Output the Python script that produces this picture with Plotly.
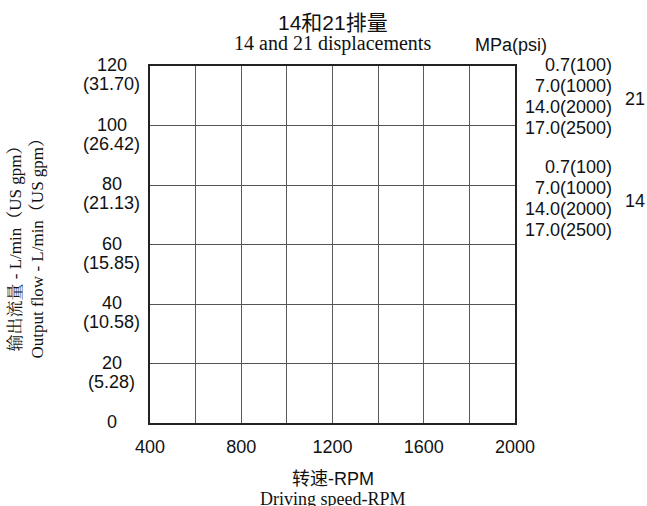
import plotly.graph_objects as go

# ---- data ----
x_grid = [400, 600, 800, 1000, 1200, 1400, 1600, 1800, 2000]
x_labels = ["400", "", "800", "", "1200", "", "1600", "", "2000"]
y_vals = [0, 20, 40, 60, 80, 100, 120]
y_gpm = ["", "(5.28)", "(10.58)", "(15.85)", "(21.13)", "(26.42)", "(31.70)"]
pressures = ["0.7(100)", "7.0(1000)", "14.0(2000)", "17.0(2500)"]
displacements = ["21", "14"]

title_cn = "14和21排量"
title_en = "14 and 21 displacements"
unit_label = "MPa(psi)"
xtitle_cn = "转速-RPM"
xtitle_en = "Driving speed-RPM"
ytitle_cn = "输出流量 - L/min（US gpm）"
ytitle_en = "Output flow - L/min（US gpm）"

SANS = "Liberation Sans, Arial, Noto Sans CJK SC"
SERIF = "Liberation Serif, Times New Roman, Noto Serif CJK SC, Noto Sans CJK SC"
TXT = "#111111"

fig = go.Figure()
fig.add_trace(go.Scatter(x=[], y=[], mode="lines", showlegend=False))

fig.update_layout(
    width=647, height=506,
    margin=dict(l=150, r=132, t=66, b=83),
    paper_bgcolor="white", plot_bgcolor="white",
    showlegend=False,
    font=dict(family=SANS, size=17, color=TXT),
)

fig.update_xaxes(
    range=[400, 2000], tickvals=x_grid, ticktext=x_labels,
    showgrid=True, gridcolor="#5a5a5a", gridwidth=1.2,
    showline=True, linecolor="#222222", linewidth=2, mirror=True,
    ticks="outside", ticklen=6, tickcolor="rgba(0,0,0,0)",
    tickfont=dict(family=SANS, size=18, color=TXT), zeroline=False,
)
fig.update_yaxes(
    range=[0, 120], tickvals=y_vals,
    showgrid=True, gridcolor="#555555", gridwidth=1.2,
    showline=True, linecolor="#222222", linewidth=2, mirror=True,
    showticklabels=False, zeroline=False,
)

ann = []
# y tick labels (value on the gridline, gpm below)
for v, g in zip(y_vals, y_gpm):
    ann.append(dict(x=0, xref="paper", y=v, yref="y", text=str(v), showarrow=False,
                    xanchor="center", yanchor="middle", xshift=-38, yshift=1,
                    font=dict(family=SANS, size=18, color=TXT)))
    if g:
        ann.append(dict(x=0, xref="paper", y=v, yref="y", text=g, showarrow=False,
                        xanchor="center", yanchor="middle", xshift=-39, yshift=-18,
                        font=dict(family=SANS, size=18, color=TXT)))

# titles
ann.append(dict(x=0.5, xref="paper", y=1, yref="paper", text=title_cn, showarrow=False,
                xanchor="center", yanchor="middle", yshift=44,
                font=dict(family=SANS, size=21, color=TXT)))
ann.append(dict(x=0.5, xref="paper", y=1, yref="paper", text=title_en, showarrow=False,
                xanchor="center", yanchor="middle", yshift=23,
                font=dict(family=SERIF, size=20, color=TXT)))
ann.append(dict(x=1, xref="paper", y=1, yref="paper", text=unit_label, showarrow=False,
                xanchor="center", yanchor="middle", xshift=-4, yshift=21,
                font=dict(family=SANS, size=18, color=TXT)))

# pressure labels
group_offsets = [0, 102]
for d, off in zip(displacements, group_offsets):
    for i, p in enumerate(pressures):
        ann.append(dict(x=1, xref="paper", y=1, yref="paper", text=p, showarrow=False,
                        xanchor="right", yanchor="middle", xshift=99,
                        yshift=-(off + i * 21) + 1,
                        font=dict(family=SANS, size=18, color=TXT)))
    ann.append(dict(x=1, xref="paper", y=1, yref="paper", text=d, showarrow=False,
                    xanchor="center", yanchor="middle", xshift=120, yshift=-(off + 33),
                    font=dict(family=SANS, size=18, color=TXT)))

# x-axis title
ann.append(dict(x=0.5, xref="paper", y=0, yref="paper", text=xtitle_cn, showarrow=False,
                xanchor="center", yanchor="middle", yshift=-56,
                font=dict(family=SANS, size=18, color=TXT)))
ann.append(dict(x=0.5, xref="paper", y=0, yref="paper", text=xtitle_en, showarrow=False,
                xanchor="center", yanchor="middle", yshift=-76,
                font=dict(family=SERIF, size=18, color=TXT)))

# y-axis title (two rotated lines)
ann.append(dict(x=0, xref="paper", y=0.5, yref="paper", text=ytitle_cn, showarrow=False,
                xanchor="center", yanchor="middle", xshift=-135, textangle=-90,
                font=dict(family=SERIF, size=17, color=TXT)))
ann.append(dict(x=0, xref="paper", y=0.5, yref="paper", text=ytitle_en, showarrow=False,
                xanchor="center", yanchor="middle", xshift=-113, textangle=-90,
                font=dict(family=SERIF, size=17, color=TXT)))

fig.update_layout(annotations=ann)
fig.write_html("out.html", config={"displayModeBar": False},
               post_script="document.body.style.margin='0px';document.body.style.overflow='hidden';")
